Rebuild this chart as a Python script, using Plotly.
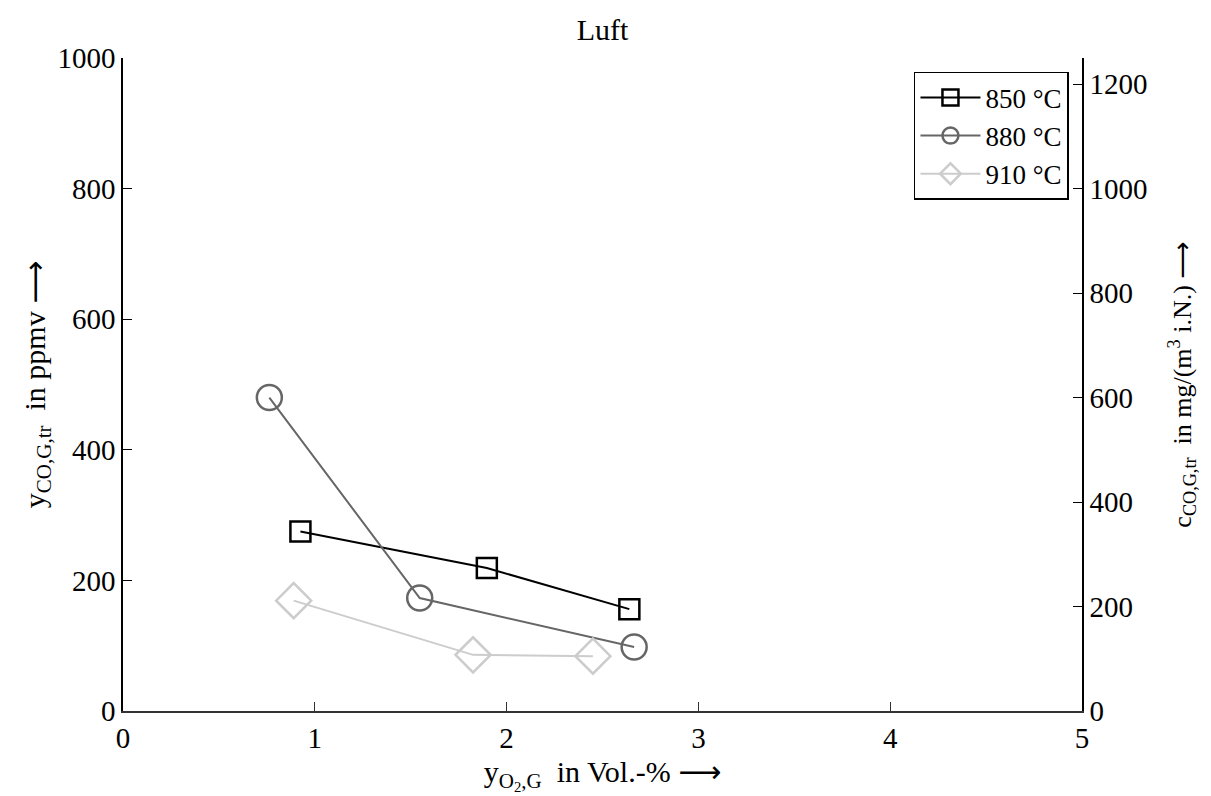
import plotly.graph_objects as go

# Data
x_850 = [0.925, 1.897, 2.64]
y_850 = [275, 219, 156]
x_880 = [0.763, 1.547, 2.665]
y_880 = [480, 173, 98]
x_910 = [0.89, 1.825, 2.45]
y_910 = [169, 86, 84]
names = ["850 °C", "880 °C", "910 °C"]

FONT = "Liberation Serif"
ARROW = '<span style="font-family:DejaVu Sans">⟶</span>'

fig = go.Figure()
fig.add_trace(go.Scatter(x=x_850, y=y_850, name=names[0], mode="lines+markers",
                         line=dict(color="#000000", width=2),
                         marker=dict(symbol="square-open", size=20, color="#000000",
                                     line=dict(width=2.5, color="#000000"))))
fig.add_trace(go.Scatter(x=x_880, y=y_880, name=names[1], mode="lines+markers",
                         line=dict(color="#666666", width=2),
                         marker=dict(symbol="circle-open", size=25, color="#666666",
                                     line=dict(width=2.5, color="#666666"))))
fig.add_trace(go.Scatter(x=x_910, y=y_910, name=names[2], mode="lines+markers",
                         line=dict(color="#cccccc", width=2),
                         marker=dict(symbol="diamond-open", size=27, color="#cccccc",
                                     line=dict(width=2.5, color="#cccccc"))))
# dummy trace for right axis
fig.add_trace(go.Scatter(x=[None], y=[None], yaxis="y2", showlegend=False, hoverinfo="skip"))

fig.update_layout(
    width=1211, height=796,
    margin=dict(l=123, r=129, t=58, b=85),
    paper_bgcolor="white", plot_bgcolor="white",
    font=dict(family=FONT, size=29, color="black"),
    title=dict(text="Luft", x=0.4975, xanchor="center", y=0.963, yanchor="middle",
               font=dict(family=FONT, size=30)),
    showlegend=True,
    legend=dict(x=0.9864, y=0.9786, xanchor="right", yanchor="top",
                bordercolor="black", borderwidth=1.5, bgcolor="white",
                font=dict(family=FONT, size=27), tracegroupgap=0,
                itemwidth=60),
    xaxis=dict(range=[0, 5], tickvals=[0, 1, 2, 3, 4, 5], showgrid=False, zeroline=False,
               showline=True, linecolor="#333333", linewidth=1.5,
               ticks="inside", ticklen=9, tickwidth=1.2, tickcolor="#333333",
               tickfont=dict(family=FONT, size=29),
               title=dict(text="y<sub>O<sub>2</sub>,G</sub>  in Vol.-% " + ARROW, standoff=6,
                          font=dict(family=FONT, size=30))),
    yaxis=dict(range=[0, 1000], tickvals=[0, 200, 400, 600, 800, 1000], showgrid=False,
               zeroline=False, showline=True, linecolor="black", linewidth=1.5,
               ticks="inside", ticklen=9, tickwidth=1.2, tickcolor="black",
               tickfont=dict(family=FONT, size=29),
               title=dict(text="y<sub>CO,G,tr</sub>  in ppmv " + ARROW, standoff=3,
                          font=dict(family=FONT, size=30))),
    yaxis2=dict(range=[0, 1250], tickvals=[0, 200, 400, 600, 800, 1000, 1200],
                overlaying="y", side="right", anchor="x", showgrid=False, zeroline=False,
                showline=True, linecolor="black", linewidth=1.5,
                ticks="inside", ticklen=9, tickwidth=1.2, tickcolor="black",
                tickfont=dict(family=FONT, size=29),
                title=dict(text="c<sub>CO,G,tr</sub>  in mg/(m<sup>3</sup> i.N.) " + ARROW, standoff=26,
                           font=dict(family=FONT, size=26))),
)

fig.write_html("out.html")
